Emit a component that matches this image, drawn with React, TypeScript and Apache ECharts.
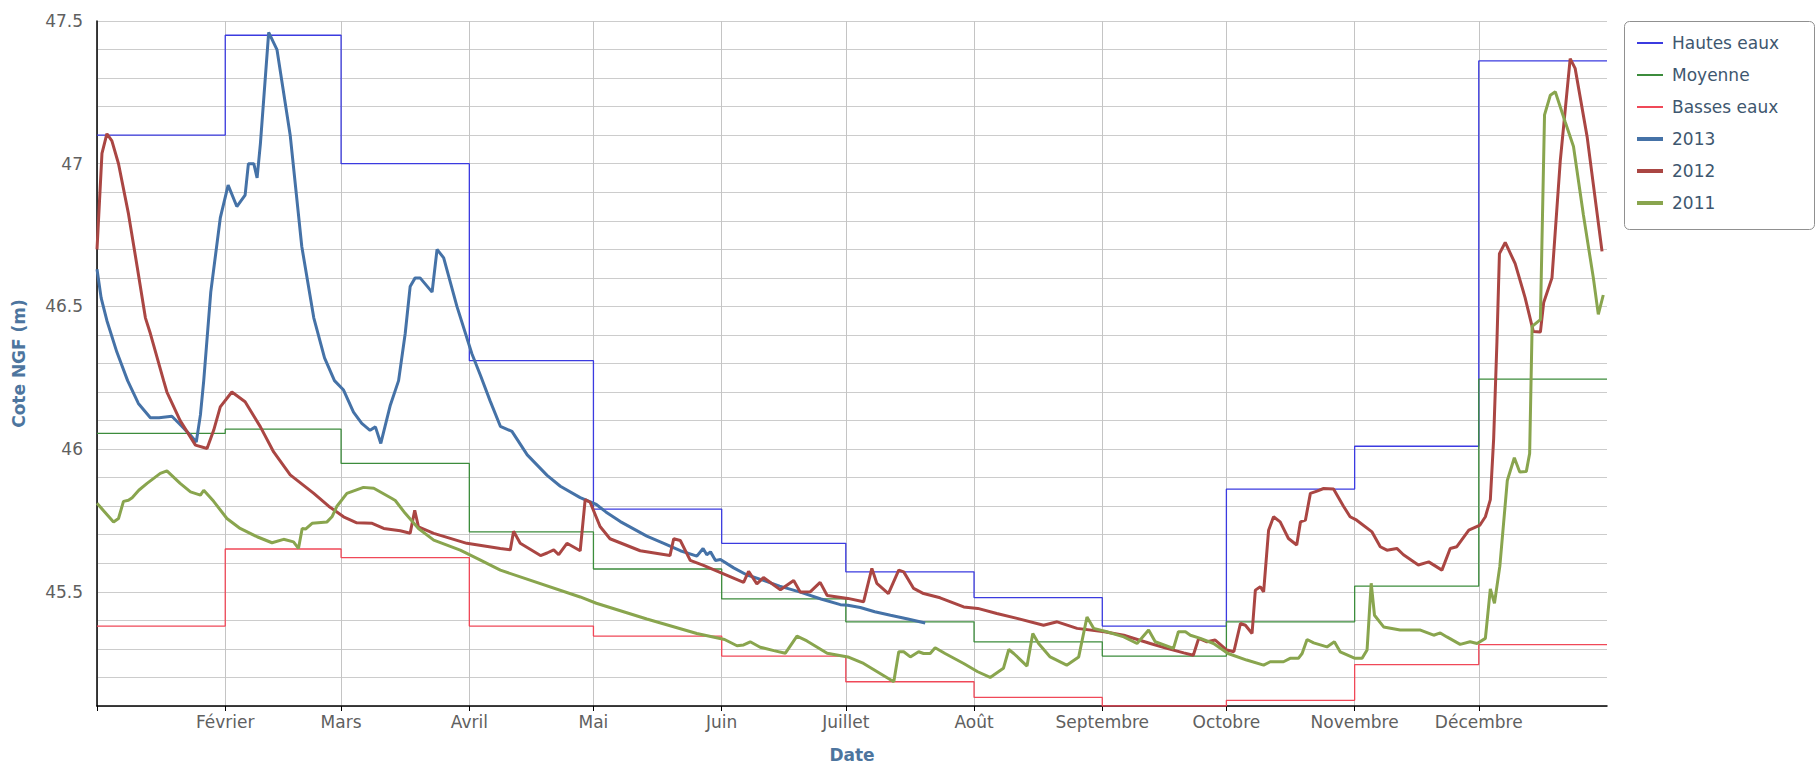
import React, { useEffect, useRef } from "react";
import * as echarts from "echarts";

// ---- Data ----
const monthStartDays = [0, 31, 59, 90, 120, 151, 181, 212, 243, 273, 304, 334];
const yearEndDay = 365;
const monthLabels = [
  "Janvier", "Février", "Mars", "Avril", "Mai", "Juin",
  "Juillet", "Août", "Septembre", "Octobre", "Novembre", "Décembre",
];
const labelDays = [31, 59, 90, 120, 151, 181, 212, 243, 273, 304, 334];

const hautesEaux = [47.10, 47.45, 47.00, 46.31, 45.79, 45.67, 45.57, 45.48, 45.38, 45.86, 46.01, 47.36];
const moyenne = [46.055, 46.07, 45.95, 45.71, 45.58, 45.475, 45.395, 45.325, 45.275, 45.395, 45.52, 46.245];
const bassesEaux = [45.38, 45.65, 45.62, 45.38, 45.345, 45.275, 45.185, 45.13, 45.10, 45.12, 45.245, 45.315];

// [day of year, level (m)]
const y2013: [number, number][] = [
  [0, 46.63], [1, 46.53], [2.4, 46.45], [4.8, 46.34], [7.4, 46.24], [10, 46.16], [12.9, 46.11],
  [15, 46.11], [18.1, 46.115], [20.5, 46.08], [22.5, 46.05], [24, 46.025], [25, 46.12], [25.8, 46.24],
  [27.5, 46.55], [29.8, 46.81], [31.7, 46.925], [33.8, 46.85], [35.8, 46.89], [36.6, 47.0], [37.9, 47.0],
  [38.7, 46.95], [39.5, 47.07], [41.5, 47.46], [43.5, 47.4], [46.7, 47.1], [49.5, 46.71], [52.4, 46.46],
  [55, 46.32], [57.4, 46.24], [59.6, 46.207], [62, 46.13], [64, 46.09], [66, 46.066], [67.3, 46.078],
  [68.6, 46.02], [70.9, 46.154], [72.9, 46.24], [74.5, 46.405], [75.7, 46.57], [76.9, 46.6], [78.1, 46.6],
  [81, 46.55], [82.2, 46.7], [83.8, 46.67], [87, 46.5], [90.6, 46.335], [92.7, 46.258], [95, 46.17],
  [97.5, 46.08], [100.3, 46.062], [104, 45.98], [108.8, 45.908], [112, 45.87], [116.8, 45.83],
  [120.7, 45.806], [123, 45.78], [126.5, 45.746], [132.9, 45.695], [137, 45.67], [141, 45.644],
  [145, 45.625], [146.5, 45.652], [147.4, 45.63], [148.3, 45.64], [149.5, 45.61], [150.7, 45.613],
  [153.9, 45.584], [157, 45.56], [161.1, 45.54], [165, 45.52], [170, 45.499], [175, 45.475],
  [179.7, 45.455], [181.5, 45.453], [184.5, 45.445], [188, 45.43], [191.8, 45.418], [196, 45.405],
  [200.2, 45.391],
];

const y2012: [number, number][] = [
  [0, 46.70], [1.2, 47.036], [2.4, 47.105], [3.6, 47.08], [5.2, 47.0], [7.6, 46.825], [9.7, 46.64],
  [11.7, 46.46], [12.9, 46.405], [16.1, 46.24], [16.9, 46.2], [20.1, 46.1], [23.8, 46.014], [26.6, 46.002],
  [28.2, 46.066], [29.8, 46.148], [32.6, 46.2], [35.8, 46.166], [39.5, 46.078], [42.7, 45.99], [46.7, 45.91],
  [52.4, 45.845], [56, 45.8], [59.6, 45.763], [62.8, 45.742], [66.5, 45.74], [69.3, 45.722], [73.3, 45.714],
  [75.7, 45.705], [76.8, 45.786], [77.7, 45.728], [81.4, 45.705], [89.4, 45.67], [97.5, 45.652],
  [99.9, 45.647], [100.7, 45.712], [102.3, 45.67], [107.2, 45.627], [108.8, 45.636], [110.4, 45.647],
  [111.6, 45.63], [113.6, 45.67], [116.8, 45.644], [118, 45.823], [119.2, 45.814], [121.6, 45.729],
  [124, 45.686], [131.3, 45.644], [138.5, 45.627], [139.4, 45.686], [141, 45.68], [143.4, 45.61],
  [146.6, 45.593], [152.3, 45.558], [156.3, 45.533], [157.5, 45.572], [159.5, 45.528], [161.1, 45.55],
  [163.6, 45.524], [165.2, 45.507], [168.4, 45.54], [170, 45.499], [172.4, 45.5], [174.8, 45.533],
  [176.5, 45.487], [181.5, 45.477], [185.3, 45.465], [187.3, 45.582], [188.5, 45.53], [191.3, 45.494],
  [193.8, 45.576], [195, 45.57], [197.4, 45.512], [199.8, 45.494], [203.8, 45.479], [209.5, 45.447],
  [212.9, 45.442], [217.5, 45.424], [222.4, 45.407], [228.8, 45.383], [232.1, 45.395], [236.9, 45.372],
  [243.5, 45.36], [248.2, 45.348], [254.6, 45.319], [258.6, 45.302], [262.7, 45.286], [265, 45.278],
  [266.3, 45.337], [268.3, 45.325], [270.3, 45.331], [273.1, 45.296], [274.8, 45.29], [276.4, 45.389],
  [277.6, 45.383], [279.2, 45.354], [280, 45.506], [281.2, 45.518], [282, 45.5], [283.2, 45.716],
  [284.4, 45.763], [286, 45.745], [288, 45.687], [290, 45.664], [290.9, 45.745], [292.1, 45.751],
  [293.3, 45.845], [294.9, 45.853], [296.5, 45.862], [298.9, 45.86], [301.3, 45.8], [302.9, 45.763],
  [304.5, 45.751], [308.2, 45.71], [310.2, 45.658], [311.8, 45.646], [314.2, 45.652], [315.8, 45.63],
  [319.4, 45.594], [321.9, 45.605], [325.1, 45.576], [327.1, 45.652], [328.7, 45.658], [331.6, 45.716],
  [334.3, 45.734], [335.6, 45.763], [336.8, 45.823], [337.6, 46.036], [338.4, 46.378], [339, 46.685],
  [340.4, 46.724], [342.8, 46.65], [345.2, 46.531], [347.2, 46.412], [348.9, 46.41], [349.7, 46.514],
  [351.7, 46.6], [353.7, 47.009], [356.1, 47.368], [357.3, 47.334], [360.2, 47.094], [363.8, 46.693],
];

const y2011: [number, number][] = [
  [0, 45.81], [4, 45.745], [5.2, 45.757], [6.4, 45.817], [7.6, 45.821], [8.5, 45.83], [10.1, 45.856],
  [12.1, 45.88], [15.3, 45.915], [16.9, 45.924], [20.1, 45.88], [22.6, 45.85], [25, 45.839], [25.8, 45.856],
  [28.2, 45.817], [31.4, 45.757], [34.6, 45.722], [38.7, 45.693], [42.3, 45.672], [45.1, 45.684],
  [47.5, 45.675], [48.7, 45.652], [49.6, 45.722], [50.4, 45.72], [52, 45.74], [55.6, 45.745],
  [56.8, 45.763], [58, 45.8], [60.4, 45.845], [64.4, 45.866], [66.9, 45.863], [71.3, 45.827],
  [72.1, 45.82], [74.5, 45.775], [77.7, 45.722], [81.4, 45.681], [87.8, 45.646], [92.7, 45.611],
  [97.5, 45.576], [116.8, 45.482], [120.7, 45.46], [132.9, 45.405], [145, 45.354], [151.7, 45.333],
  [154.7, 45.311], [156.3, 45.314], [157.9, 45.325], [160.3, 45.306], [163.6, 45.294], [166.4, 45.285],
  [169.2, 45.345], [171.6, 45.328], [176.5, 45.285], [181.5, 45.272], [185.3, 45.249], [192.6, 45.185],
  [193.8, 45.29], [195, 45.29], [196.6, 45.272], [198.6, 45.29], [199.8, 45.284], [201.4, 45.284],
  [202.6, 45.304], [205, 45.284], [209.5, 45.249], [212.9, 45.22], [215.9, 45.2], [219.1, 45.232],
  [220.4, 45.298], [221.6, 45.284], [224.8, 45.24], [226.2, 45.354], [227.6, 45.319], [230.4, 45.272],
  [234.4, 45.243], [237.3, 45.272], [239.3, 45.412], [240.9, 45.372], [244.1, 45.36], [248.2, 45.342],
  [251.4, 45.319], [254.2, 45.366], [255.8, 45.325], [260.2, 45.302], [261.4, 45.36], [263.1, 45.36],
  [264.3, 45.348], [266.7, 45.337], [269.9, 45.319], [273.4, 45.284], [277.9, 45.261], [282, 45.243],
  [283.6, 45.255], [286.8, 45.255], [288.4, 45.267], [290.4, 45.267], [291.3, 45.284], [292.5, 45.333],
  [294.1, 45.321], [297.3, 45.307], [299.1, 45.325], [300.5, 45.29], [304.1, 45.267], [305.8, 45.267],
  [307, 45.296], [308, 45.53], [308.8, 45.418], [311, 45.377], [315, 45.366], [319.9, 45.366],
  [323.1, 45.348], [324.7, 45.356], [326.3, 45.342], [329.5, 45.316], [331.9, 45.325], [333.6, 45.319],
  [335.6, 45.337], [336.8, 45.51], [337.8, 45.46], [339.1, 45.59], [340.9, 45.89], [342.6, 45.97],
  [343.9, 45.92], [345.5, 45.922], [346.3, 45.985], [346.9, 46.43], [348.9, 46.454], [349.9, 47.171],
  [351.3, 47.24], [352.5, 47.252], [354.9, 47.146], [356.9, 47.06], [359.3, 46.82], [361.7, 46.6],
  [362.9, 46.472], [364.1, 46.54],
];

const FONT = "'DejaVu Sans', Verdana, sans-serif";
const THIN_ICON = "path://M0 0H26V2H0Z";
const THICK_ICON = "path://M0 0H26V4H0Z";

function stepData(vals: number[]): [number, number][] {
  const pts: [number, number][] = monthStartDays.map((d, i) => [d, vals[i]]);
  pts.push([yearEndDay, vals[vals.length - 1]]);
  return pts;
}

export default function App() {
  const ref = useRef<HTMLDivElement>(null);

  useEffect(() => {
    if (!ref.current) return;
    const chart = echarts.init(ref.current, undefined, { renderer: "svg" });

    const thin = (name: string, color: string, vals: number[]) => ({
      name,
      type: "line",
      step: "end",
      data: stepData(vals),
      symbol: "none",
      showSymbol: false,
      lineStyle: { color, width: 1.3 },
      itemStyle: { color },
      z: 2,
    });
    const thick = (name: string, color: string, data: [number, number][]) => ({
      name,
      type: "line",
      data,
      symbol: "none",
      showSymbol: false,
      lineStyle: { color, width: 3 },
      itemStyle: { color },
      z: 3,
    });

    chart.setOption({
      animation: false,
      backgroundColor: "#ffffff",
      textStyle: { fontFamily: FONT },
      grid: {
        left: 97,
        right: 209,
        top: 21,
        bottom: 58,
        containLabel: false,
        outerBoundsMode: "none",
      },
      graphic: [
        {
          type: "rect",
          shape: { x: 1624.5, y: 21.5, width: 190, height: 208, r: 5 },
          style: { fill: "#ffffff", stroke: "#909090", lineWidth: 1 },
          z: 0,
        },
      ],
      legend: {
        show: true,
        orient: "vertical",
        left: 1637,
        top: 34,
        padding: 0,
        itemWidth: 26,
        itemHeight: 14,
        itemGap: 14,
        symbolKeepAspect: true,
        itemStyle: { borderWidth: 0 },
        textStyle: {
          fontFamily: FONT,
          fontSize: 17,
          lineHeight: 18,
          color: "#3E576F",
          padding: [0, 0, 0, 4],
        },
        data: [
          { name: "Hautes eaux", icon: THIN_ICON },
          { name: "Moyenne", icon: THIN_ICON },
          { name: "Basses eaux", icon: THIN_ICON },
          { name: "2013", icon: THICK_ICON },
          { name: "2012", icon: THICK_ICON },
          { name: "2011", icon: THICK_ICON },
        ],
        z: 5,
      },
      xAxis: {
        type: "value",
        min: 0,
        max: yearEndDay,
        name: "Date",
        nameLocation: "middle",
        nameGap: 40,
        nameTextStyle: { color: "#4d759e", fontWeight: "bold", fontSize: 17, fontFamily: FONT },
        axisLine: { show: true, onZero: false, lineStyle: { color: "#000", width: 1.5 } },
        axisTick: {
          show: true,
          length: 5,
          inside: false,
          customValues: monthStartDays,
          lineStyle: { color: "#000", width: 1 },
        },
        axisLabel: {
          show: true,
          customValues: labelDays,
          margin: 7,
          fontSize: 17,
          fontFamily: FONT,
          color: "#606060",
          formatter: (v: number) => {
            const i = monthStartDays.indexOf(Math.round(v));
            return i >= 0 ? monthLabels[i] : "";
          },
        },
        splitLine: { show: true, lineStyle: { color: "#c4c4c4", width: 1 } },
      },
      yAxis: {
        type: "value",
        min: 45.1,
        max: 47.5,
        interval: 0.1,
        name: "Cote NGF (m)",
        nameLocation: "middle",
        nameGap: 70,
        nameTextStyle: { color: "#4d759e", fontWeight: "bold", fontSize: 17, fontFamily: FONT },
        axisLine: { show: true, onZero: false, lineStyle: { color: "#000", width: 1.5 } },
        axisTick: { show: false },
        axisLabel: {
          show: true,
          margin: 14,
          fontSize: 17,
          fontFamily: FONT,
          color: "#606060",
          formatter: (v: number) => {
            const r = Math.round(v * 10) / 10;
            return Math.abs(r * 2 - Math.round(r * 2)) < 1e-6 ? String(r) : "";
          },
        },
        splitLine: { show: true, lineStyle: { color: "#cccccc", width: 1 } },
      },
      series: [
        thin("Hautes eaux", "#3b3be0", hautesEaux),
        thin("Moyenne", "#3c8c3c", moyenne),
        thin("Basses eaux", "#f04858", bassesEaux),
        thick("2013", "#4572A7", y2013),
        thick("2012", "#AA4643", y2012),
        thick("2011", "#89A54E", y2011),
      ],
    });

    return () => {
      chart.dispose();
    };
  }, []);

  return (
    <div
      ref={ref}
      style={{ position: "absolute", left: 0, top: 0, width: 1816, height: 764 }}
    />
  );
}
